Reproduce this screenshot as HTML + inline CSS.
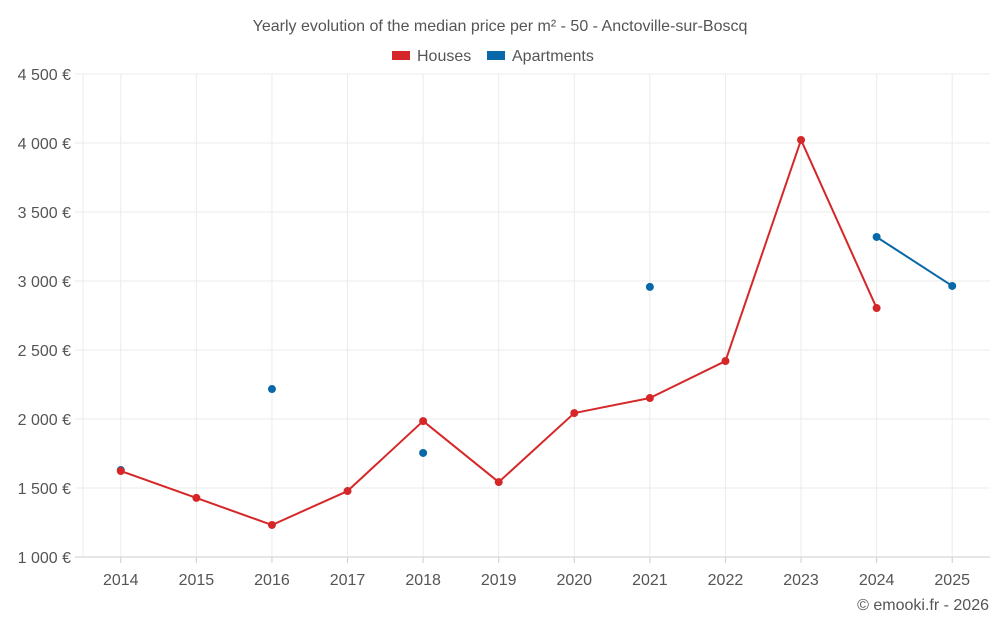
<!DOCTYPE html>
<html><head><meta charset="utf-8"><style>
body{margin:0;background:#fff;font-family:"Liberation Sans",sans-serif}
svg text{font-family:"Liberation Sans",sans-serif}
</style></head><body>
<svg id="chart" width="1000" height="625" xmlns="http://www.w3.org/2000/svg">
<text x="500" y="31" text-anchor="middle" font-size="16" fill="#555">Yearly evolution of the median price per m² - 50 - Anctoville-sur-Boscq</text>
<g>
<rect x="392" y="51" width="18" height="9" fill="#d62728"/>
<text x="417" y="61" font-size="16" fill="#555">Houses</text>
<rect x="487" y="51" width="18" height="9" fill="#0868a8"/>
<text x="512" y="61" font-size="16" fill="#555">Apartments</text>
</g>
<g id="grid"></g><g id="axes"></g><g id="series"></g>
<text x="989" y="610" text-anchor="end" font-size="16" fill="#555">© emooki.fr - 2026</text>
</svg>
<script>
const years=[2014,2015,2016,2017,2018,2019,2020,2021,2022,2023,2024,2025];
const houses=[1623,1428,1232,1478,1985,1543,2043,2152,2420,4022,2804,null];
const apartments=[1630,null,2217,null,1754,null,null,2957,null,null,3319,2964];
const yTicks=[1000,1500,2000,2500,3000,3500,4000,4500];
const yLabels=["1 000 €","1 500 €","2 000 €","2 500 €","3 000 €","3 500 €","4 000 €","4 500 €"];
const NS="http://www.w3.org/2000/svg";
const L=83,R=990,T=74,B=557;
const step=(R-L)/years.length;
const x=i=>L+step*(i+0.5);
const y=v=>B-(v-1000)/3500*(B-T);
function mk(t,a,p){const e=document.createElementNS(NS,t);for(const k in a)e.setAttribute(k,a[k]);p.appendChild(e);return e;}
const grid=document.getElementById('grid'),axes=document.getElementById('axes'),ser=document.getElementById('series');
yTicks.forEach((v,i)=>{
 const g=mk('line',{x1:75,x2:R,y1:y(v),y2:y(v),stroke:i==0?'#ccc':'#ebebeb','stroke-width':1},grid);
 
 
 const t=mk('text',{x:71,y:y(v)+6,'text-anchor':'end','font-size':16,fill:'#555'},axes);
 t.textContent=yLabels[i];
 
 
});
const e0=mk('line',{x1:L,x2:L,y1:T,y2:B,stroke:'#ebebeb'},grid);


years.forEach((yr,i)=>{
 const g=mk('line',{x1:x(i),x2:x(i),y1:T,y2:B,stroke:'#ebebeb'},grid);
 
 
 const t=mk('text',{x:x(i),y:585,'text-anchor':'middle','font-size':16,fill:'#555'},axes);
 t.textContent=yr;
 
 
 const k=mk('line',{x1:x(i),x2:x(i),y1:B,y2:B+6,stroke:'#ccc'},axes);
 
 
});
function draw(data,color,name){
 for(let i=0;i<data.length-1;i++){
  if(data[i]!=null&&data[i+1]!=null){
   const l=mk('line',{x1:x(i),y1:y(data[i]),x2:x(i+1),y2:y(data[i+1]),stroke:color,'stroke-width':2},ser);
   
   
  }
 }
 data.forEach((v,i)=>{if(v==null)return;
  const c=mk('circle',{cx:x(i),cy:y(v),r:4,fill:color},ser);
  
  
 });
}
draw(apartments,'#0868a8','apartments');
draw(houses,'#d62728','houses');
</script>
</body></html>
